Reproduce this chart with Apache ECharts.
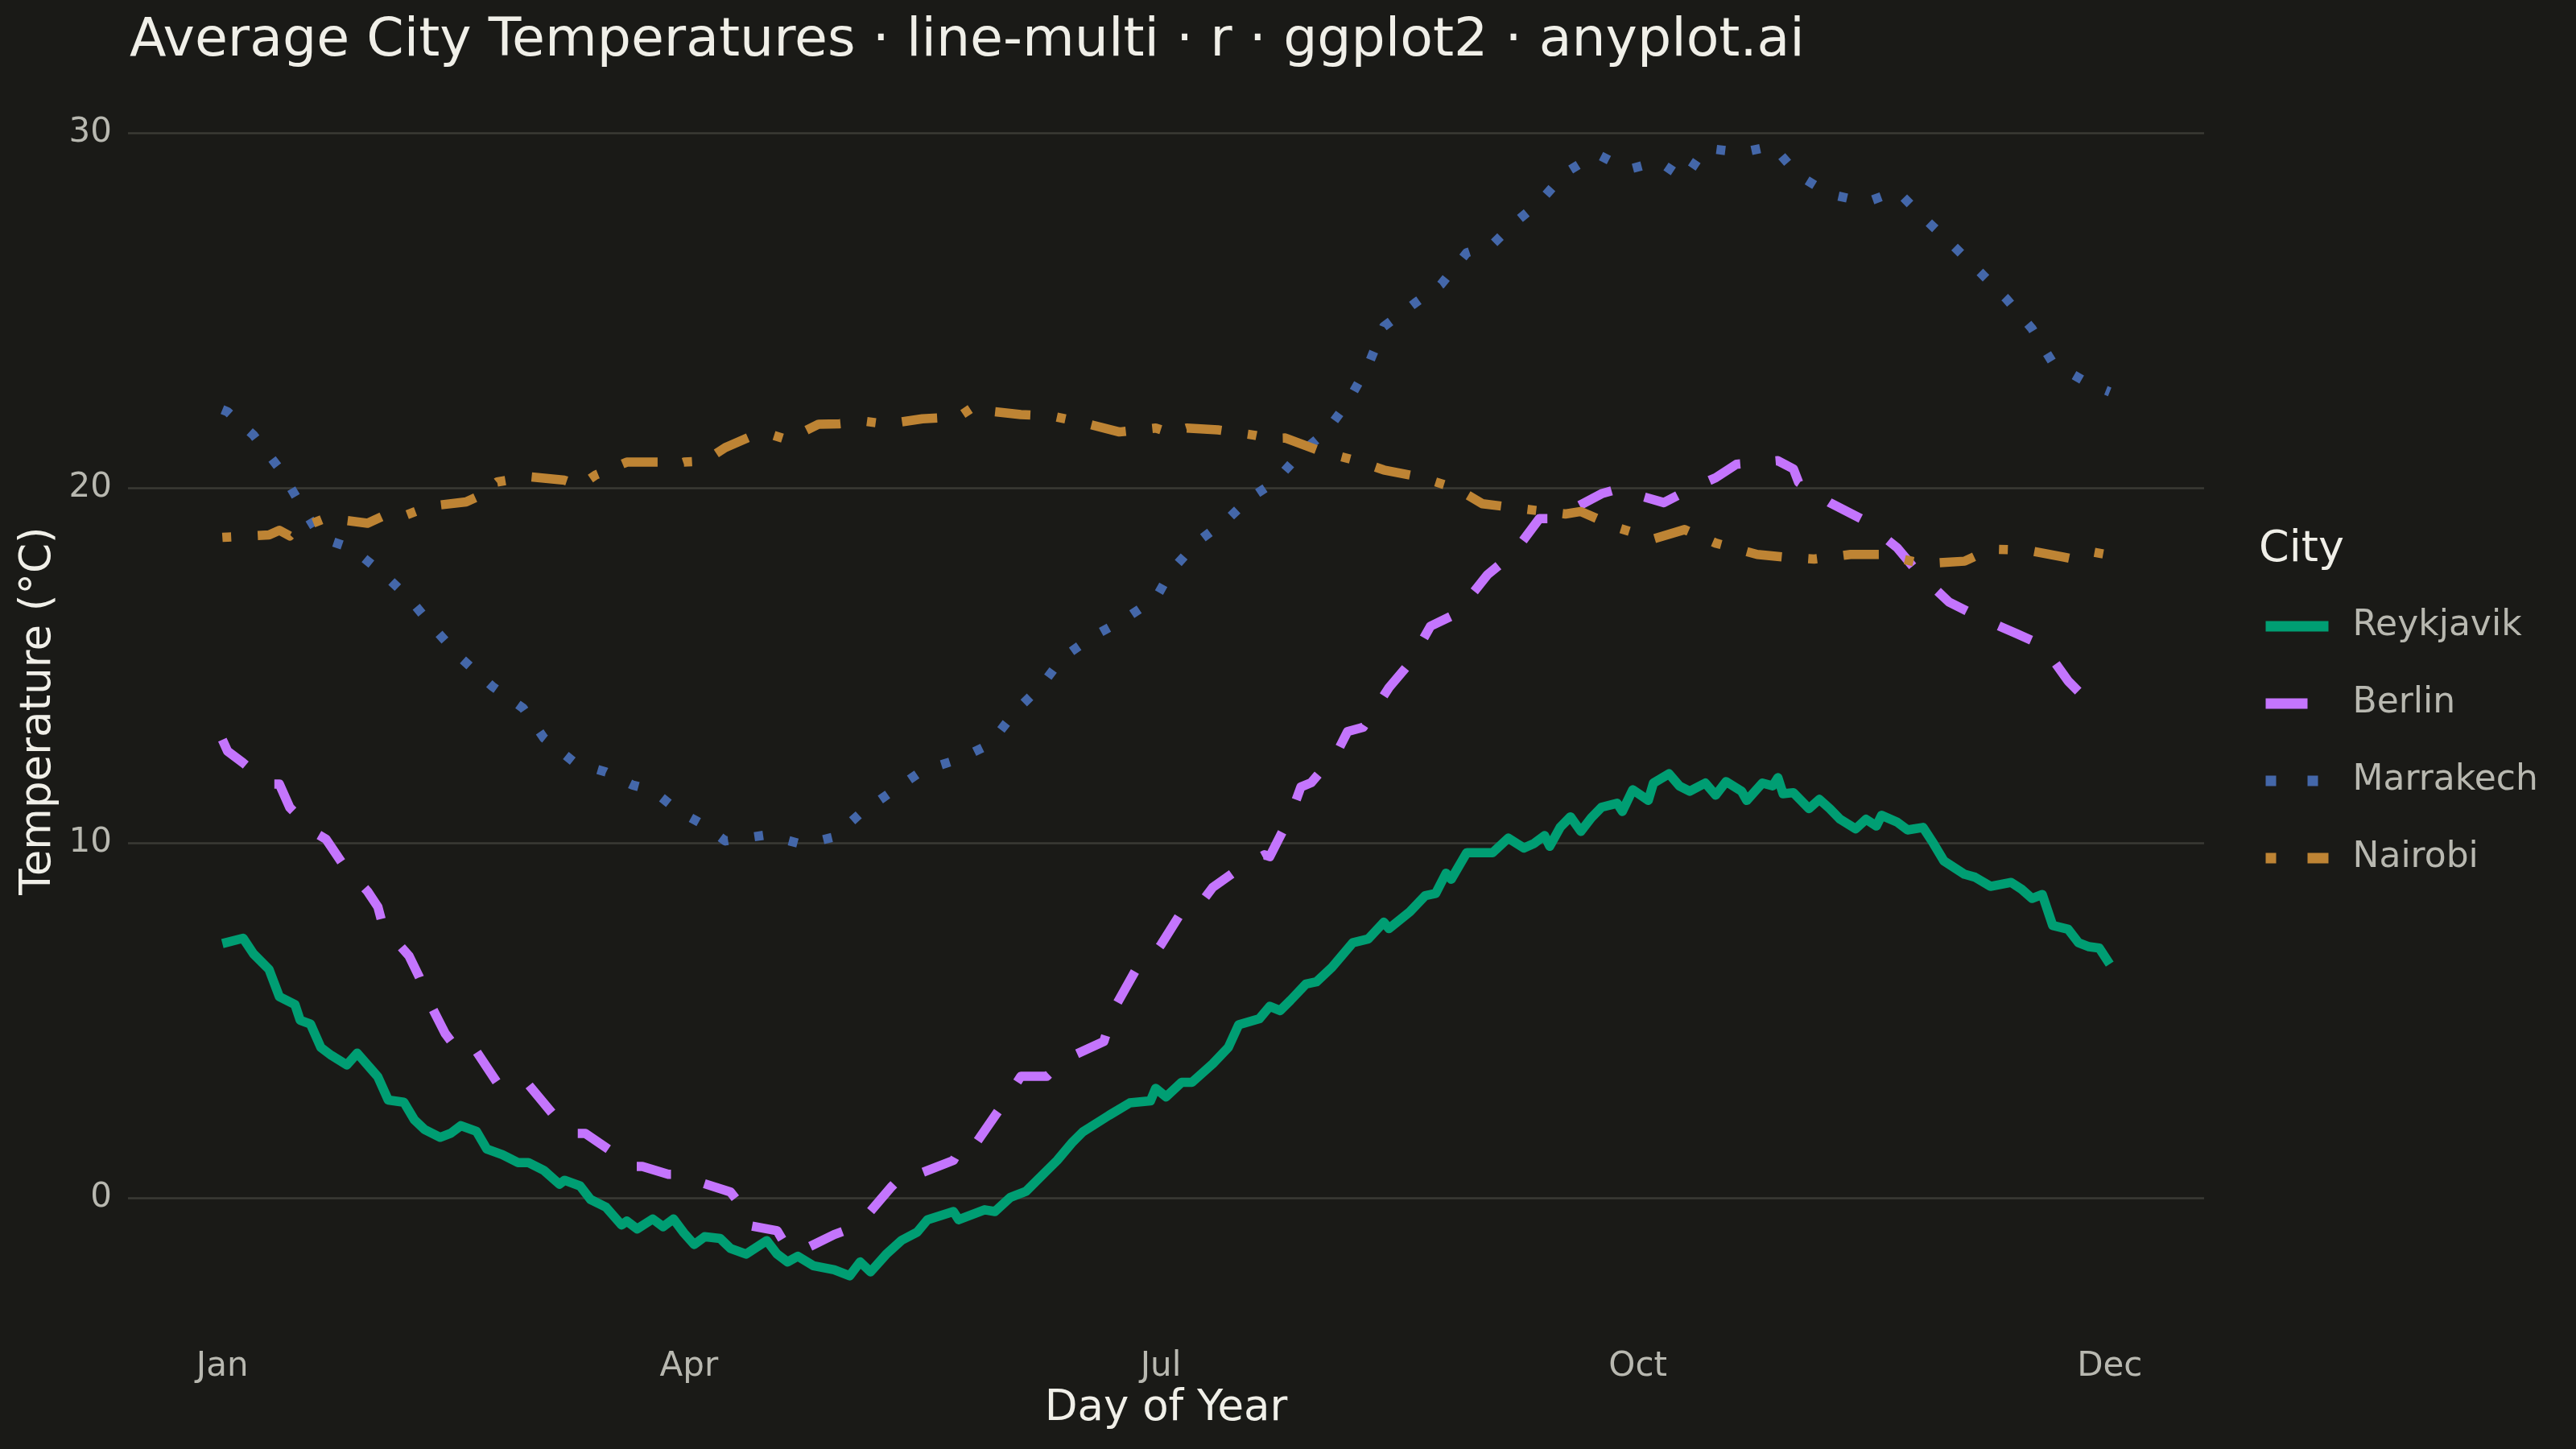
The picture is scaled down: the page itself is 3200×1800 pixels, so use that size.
<!DOCTYPE html>
<html>
<head>
<meta charset="utf-8">
<title>Average City Temperatures</title>
<script src="https://cdn.jsdelivr.net/npm/echarts@6/dist/echarts.min.js"></script>
<style>
  html, body { margin: 0; padding: 0; background: #1A1A17; }
  #chart { width: 3200px; height: 1800px; }
</style>
</head>
<body>
<div id="chart"></div>
<script>
// values, day of year -> temperature (°C)
const reykjavikDays = [1, 5, 7, 10, 12, 15, 16, 18, 20, 22, 25, 27, 30, 31, 33, 36, 38, 40, 43, 45, 47, 50, 52, 55, 58, 60, 63, 66, 67, 70, 72, 75, 78, 79, 81, 84, 86, 88, 90, 92, 94, 97, 99, 102, 106, 108, 110, 112, 115, 119, 122, 124, 126, 129, 132, 135, 137, 142, 143, 148, 150, 153, 156, 160, 162, 165, 167, 172, 176, 180, 181, 183, 186, 188, 192, 195, 197, 201, 203, 205, 207, 210, 212, 215, 219, 222, 225, 226, 230, 233, 235, 237, 238, 241, 246, 249, 252, 254, 256, 257, 259, 261, 263, 265, 267, 270, 271, 273, 276, 277, 280, 282, 284, 287, 289, 291, 294, 295, 298, 300, 301, 302, 304, 307, 309, 311, 313, 316, 318, 320, 321, 324, 326, 329, 331, 333, 337, 339, 342, 346, 348, 350, 352, 354, 357, 359, 361, 363, 365];
const reykjavikTemps = [7.16, 7.31, 6.87, 6.43, 5.66, 5.44, 5.0, 4.89, 4.23, 4.01, 3.74, 4.07, 3.57, 3.4, 2.75, 2.69, 2.2, 1.92, 1.7, 1.81, 2.03, 1.87, 1.37, 1.21, 0.99, 0.99, 0.77, 0.38, 0.49, 0.33, -0.05, -0.27, -0.77, -0.66, -0.88, -0.6, -0.82, -0.6, -0.99, -1.32, -1.1, -1.15, -1.43, -1.59, -1.21, -1.59, -1.81, -1.65, -1.92, -2.03, -2.2, -1.81, -2.09, -1.6, -1.2, -0.97, -0.62, -0.39, -0.62, -0.34, -0.39, 0.01, 0.18, 0.76, 1.05, 1.57, 1.86, 2.32, 2.67, 2.73, 3.08, 2.84, 3.25, 3.25, 3.77, 4.23, 4.87, 5.04, 5.39, 5.27, 5.56, 6.02, 6.08, 6.49, 7.18, 7.29, 7.76, 7.58, 8.05, 8.51, 8.57, 9.14, 8.97, 9.72, 9.72, 10.13, 9.85, 9.98, 10.2, 9.9, 10.43, 10.73, 10.32, 10.7, 11.0, 11.11, 10.88, 11.49, 11.19, 11.68, 11.94, 11.6, 11.45, 11.68, 11.34, 11.72, 11.45, 11.19, 11.68, 11.6, 11.83, 11.38, 11.41, 10.96, 11.22, 10.96, 10.66, 10.39, 10.66, 10.47, 10.77, 10.58, 10.36, 10.43, 9.98, 9.49, 9.11, 9.03, 8.77, 8.88, 8.69, 8.43, 8.54, 7.67, 7.56, 7.18, 7.07, 7.03, 6.58];

const berlinDays = [1, 2, 5, 10, 12, 14, 19, 21, 24, 29, 31, 32, 37, 39, 40, 44, 46, 48, 50, 54, 56, 58, 60, 65, 68, 71, 77, 79, 82, 87, 90, 93, 99, 101, 102, 108, 110, 112, 119, 122, 125, 130, 133, 136, 142, 144, 146, 152, 155, 160, 163, 165, 171, 173, 177, 180, 182, 186, 189, 192, 197, 202, 203, 207, 209, 211, 216, 218, 221, 226, 230, 234, 239, 245, 250, 255, 258, 267, 271, 273, 279, 284, 289, 293, 301, 304, 305, 311, 317, 324, 328, 334, 340, 347, 352, 357, 360, 362, 365];
const berlinTemps = [12.9, 12.58, 12.25, 11.65, 11.65, 10.99, 10.27, 10.1, 9.45, 8.63, 8.19, 7.64, 6.81, 6.21, 5.77, 4.62, 4.23, 3.96, 4.12, 3.24, 3.08, 3.13, 3.19, 2.31, 1.81, 1.81, 1.21, 0.88, 0.88, 0.66, 0.66, 0.44, 0.16, -0.22, -0.77, -0.93, -1.43, -1.54, -1.04, -0.88, -0.55, 0.3, 0.76, 0.71, 1.05, 1.57, 1.46, 2.73, 3.42, 3.42, 3.83, 4.0, 4.4, 5.33, 6.37, 6.72, 7.12, 8.05, 8.16, 8.74, 9.26, 9.66, 9.61, 10.76, 11.57, 11.69, 12.55, 13.13, 13.25, 14.37, 15.06, 16.1, 16.45, 17.55, 18.15, 19.13, 19.13, 19.83, 20.0, 19.83, 19.58, 19.96, 20.28, 20.66, 20.76, 20.53, 20.15, 19.58, 19.13, 18.31, 17.61, 16.78, 16.34, 15.89, 15.57, 14.55, 14.11, 13.98, 13.9];

const marrakechDays = [1, 2, 7, 12, 16, 20, 26, 32, 37, 42, 47, 53, 59, 63, 69, 75, 80, 84, 89, 94, 98, 106, 113, 119, 124, 130, 136, 143, 149, 154, 159, 163, 169, 175, 181, 184, 189, 195, 199, 204, 209, 214, 218, 222, 225, 231, 236, 241, 246, 250, 255, 260, 266, 272, 278, 283, 287, 294, 300, 305, 311, 318, 324, 329, 335, 340, 345, 350, 354, 361, 365];
const marrakechTemps = [22.2, 22.14, 21.48, 20.54, 19.55, 18.59, 18.29, 17.58, 16.89, 16.01, 15.2, 14.41, 13.79, 12.95, 12.25, 11.99, 11.63, 11.47, 10.89, 10.49, 10.05, 10.22, 9.95, 10.16, 10.82, 11.43, 12.03, 12.35, 12.77, 13.71, 14.43, 15.21, 15.82, 16.3, 16.88, 17.66, 18.47, 19.13, 19.69, 20.17, 20.98, 21.6, 22.4, 23.45, 24.54, 25.2, 25.72, 26.62, 26.86, 27.43, 28.04, 28.87, 29.41, 28.96, 29.19, 28.7, 29.57, 29.44, 29.63, 28.8, 28.27, 28.04, 28.36, 27.62, 26.79, 26.07, 25.33, 24.48, 23.52, 22.93, 22.7];

const nairobiDays = [1, 2, 10, 12, 14, 15, 21, 29, 32, 35, 41, 48, 51, 54, 60, 67, 70, 73, 79, 85, 88, 90, 94, 98, 103, 107, 110, 116, 120, 125, 129, 136, 143, 146, 148, 155, 161, 167, 174, 181, 184, 187, 193, 200, 203, 206, 213, 220, 225, 232, 239, 244, 251, 260, 263, 270, 277, 283, 289, 297, 302, 308, 315, 321, 329, 337, 342, 349, 356, 358, 362, 365];
const nairobiTemps = [18.6, 18.61, 18.67, 18.8, 18.64, 18.8, 19.15, 19.0, 19.2, 19.15, 19.48, 19.6, 19.8, 20.16, 20.31, 20.21, 20.06, 20.36, 20.72, 20.72, 20.62, 20.72, 20.75, 21.13, 21.45, 21.49, 21.35, 21.79, 21.8, 21.87, 21.79, 21.94, 22.0, 22.29, 22.17, 22.06, 22.02, 21.83, 21.57, 21.68, 21.54, 21.68, 21.63, 21.48, 21.39, 21.4, 21.02, 20.75, 20.5, 20.3, 19.98, 19.55, 19.42, 19.26, 19.33, 18.88, 18.56, 18.82, 18.44, 18.12, 18.05, 17.99, 18.12, 18.12, 17.86, 17.93, 18.27, 18.24, 18.05, 17.99, 18.18, 18.1];

const cities = ['Reykjavik', 'Berlin', 'Marrakech', 'Nairobi'];
const monthTicks = [1, 91, 182, 274, 365];
const monthLabels = ['Jan', 'Apr', 'Jul', 'Oct', 'Dec'];
const tempTicks = [0, 10, 20, 30];

const colors = ['#009E73', '#C475FD', '#4467A9', '#BE8434'];
// ggplot linetypes solid / dashed / dotted / dotdash
const dashes = ['solid', [44, 44], [11, 33], [11, 33, 44, 33]];
const legendDashes = ['solid', [52, 52], [13, 39], [13, 39, 52, 39]];

const zip = (xs, ys) => xs.map((x, i) => [x, ys[i]]);
const seriesData = [
  zip(reykjavikDays, reykjavikTemps),
  zip(berlinDays, berlinTemps),
  zip(marrakechDays, marrakechTemps),
  zip(nairobiDays, nairobiTemps)
];

// ggplot-style 5% expansion of both scales
const allTemps = reykjavikTemps.concat(berlinTemps, marrakechTemps, nairobiTemps);
const tMin = Math.min(...allTemps), tMax = Math.max(...allTemps);
const tPad = (tMax - tMin) * 0.05;
const dPad = (365 - 1) * 0.05;

const chart = echarts.init(document.getElementById('chart'), null, { renderer: 'canvas' });

chart.setOption({
  backgroundColor: '#1A1A17',
  animation: false,
  textStyle: { fontFamily: 'DejaVu Sans' },
  title: [
    {
      text: 'Average City Temperatures · line-multi · r · ggplot2 · anyplot.ai',
      left: 161,
      top: 18,
      padding: 0,
      textStyle: { color: '#F0EFE8', fontSize: 66.5, fontWeight: 'normal', fontFamily: 'DejaVu Sans' }
    },
    {
      text: 'City',
      left: 2806,
      top: 656,
      padding: 0,
      textStyle: { color: '#F0EFE8', fontSize: 54, fontWeight: 'normal', fontFamily: 'DejaVu Sans' }
    }
  ],
  legend: {
    orient: 'vertical',
    left: 2808,
    top: 756,
    padding: 0,
    itemWidth: 78,
    itemHeight: 50,
    itemGap: 52,
    itemStyle: { opacity: 0 },
    textStyle: { color: '#B8B8B0', fontSize: 44, padding: [0, 0, 0, 25], fontFamily: 'DejaVu Sans' },
    data: cities.map((name, i) => ({
      name: name,
      lineStyle: { width: 13, type: legendDashes[i], color: colors[i] }
    })),
    selectedMode: false
  },
  grid: { left: 159, right: 462, top: 111, bottom: 145, containLabel: false },
  xAxis: {
    type: 'value',
    min: 1 - dPad,
    max: 365 + dPad,
    axisLine: { show: false },
    axisTick: { show: false, customValues: monthTicks },
    splitLine: { show: false },
    axisLabel: {
      customValues: monthTicks,
      formatter: v => monthLabels[monthTicks.indexOf(v)],
      color: '#B8B8B0',
      fontSize: 42,
      margin: 22
    },
    name: 'Day of Year',
    nameLocation: 'middle',
    nameGap: 68,
    nameTextStyle: { color: '#F0EFE8', fontSize: 53 }
  },
  yAxis: {
    type: 'value',
    min: tMin - tPad,
    max: tMax + tPad,
    axisLine: { show: false },
    axisTick: { show: false, customValues: tempTicks },
    splitLine: { show: true, lineStyle: { color: '#3A3A35', width: 2.5 } },
    axisLabel: {
      customValues: tempTicks,
      color: '#B8B8B0',
      fontSize: 42,
      margin: 20
    },
    name: 'Temperature (°C)',
    nameLocation: 'middle',
    nameGap: 84,
    nameTextStyle: { color: '#F0EFE8', fontSize: 53 }
  },
  series: cities.map((name, i) => ({
    name: name,
    type: 'line',
    data: seriesData[i],
    symbol: 'none',
    showSymbol: false,
    silent: true,
    emphasis: { disabled: true },
    lineStyle: { color: colors[i], width: 11.5, type: dashes[i], cap: 'butt', join: 'round' },
    itemStyle: { color: colors[i] }
  }))
});
</script>
</body>
</html>
